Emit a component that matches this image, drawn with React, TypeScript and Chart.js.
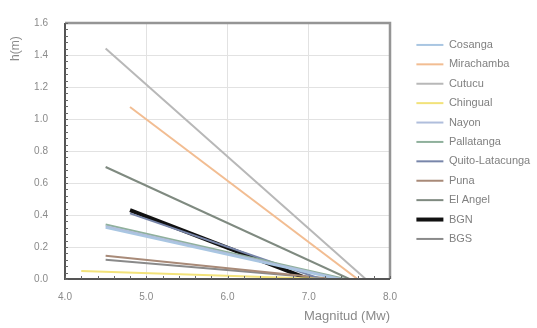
import React, { useEffect, useRef } from 'react';
import { Chart, registerables } from 'chart.js';
Chart.register(...registerables);

const seriesNames = ['Cosanga', 'Mirachamba', 'Cutucu', 'Chingual', 'Nayon', 'Pallatanga', 'Quito-Latacunga', 'Puna', 'El Angel', 'BGN', 'BGS'];
const magStart = [4.5, 4.8, 4.5, 4.2, 4.5, 4.5, 4.8, 4.5, 4.5, 4.8, 4.5];
const hStart = [0.32, 1.075, 1.44, 0.05, 0.33, 0.34, 0.41, 0.145, 0.7, 0.43, 0.12];
const magEnd = [7.35, 7.6, 7.7, 7.2, 7.4, 7.45, 7.15, 7.3, 7.5, 7.0, 7.3];
const seriesColors = ['#a9c6e2', '#f2bd92', '#b8b8b8', '#f2e27a', '#b0bedc', '#8fb09c', '#7886aa', '#a88a78', '#7f8a80', '#111111', '#8a8a8a'];
const seriesWidths = [2, 2, 2, 2, 2, 2, 2, 2, 2, 4, 2];

const xTicks = [4, 5, 6, 7, 8];
const yMin = 0;
const yMax = 1.6;
const yStep = 0.2;

const legendWidthPlugin = {
  id: 'legendWidth',
  beforeInit(chart: any) {
    const legend = chart.legend;
    if (!legend) return;
    const origFit = legend.fit;
    legend.fit = function () {
      origFit.call(this);
      this.width = 147;
    };
  },
  afterLayout(chart: any) {
    if (chart.legend) chart.legend.left += 18;
  },
};

const framePlugin = {
  id: 'frame',
  afterDraw(chart: any) {
    const { ctx, chartArea: a, scales } = chart;
    ctx.save();
    ctx.strokeStyle = '#959595';
    ctx.lineWidth = 2.5;
    ctx.beginPath();
    ctx.moveTo(a.left, a.top);
    ctx.lineTo(a.right, a.top);
    ctx.lineTo(a.right, a.bottom);
    ctx.stroke();
    ctx.strokeStyle = '#555555';
    ctx.lineWidth = 2;
    ctx.beginPath();
    ctx.moveTo(a.left, a.top);
    ctx.lineTo(a.left, a.bottom);
    ctx.lineTo(a.right, a.bottom);
    ctx.stroke();
    ctx.lineWidth = 1;
    ctx.strokeStyle = '#666666';
    ctx.beginPath();
    for (let v = 0; v <= 1.6001; v += 0.04) {
      const y = Math.round(scales.y.getPixelForValue(v)) + 0.5;
      ctx.moveTo(a.left, y);
      ctx.lineTo(a.left + 3, y);
    }
    for (let m = 4; m <= 8.0001; m += 0.2) {
      const x = Math.round(scales.x.getPixelForValue(m)) + 0.5;
      ctx.moveTo(x, a.bottom);
      ctx.lineTo(x, a.bottom - 3);
    }
    ctx.stroke();
    ctx.restore();
  },
};

export default function App() {
  const ref = useRef<HTMLCanvasElement>(null);
  useEffect(() => {
    document.body.style.margin = '0';
    const datasets = seriesNames.map((name, i) => ({
      label: name,
      data: [
        { x: magStart[i], y: hStart[i] },
        { x: magEnd[i], y: 0 },
      ],
      borderColor: seriesColors[i],
      backgroundColor: seriesColors[i],
      borderWidth: seriesWidths[i],
      pointRadius: 0,
      pointHoverRadius: 0,
      showLine: true,
      tension: 0,
    }));
    const chart = new Chart(ref.current!, {
      type: 'line',
      data: { datasets },
      options: {
        animation: false,
        responsive: false,
        maintainAspectRatio: false,
        layout: { padding: { left: 4, top: 23, right: 0, bottom: 0 } },
        plugins: {
          tooltip: { enabled: false },
          legend: {
            position: 'right',
            align: 'start',
            title: { display: true, text: ' ', font: { size: 6.7 } },
            labels: {
              usePointStyle: true,
              pointStyle: 'line',
              pointStyleWidth: 27,
              boxHeight: 11,
              padding: 8.4,
              color: '#808080',
              font: { family: 'Liberation Sans', size: 11 },
            },
          },
        },
        scales: {
          x: {
            type: 'linear',
            min: 4,
            max: 8,
            afterBuildTicks: (axis: any) => {
              axis.ticks = xTicks.map((v) => ({ value: v }));
            },
            afterFit: (axis: any) => {
              axis.height = 49;
            },
            grid: { color: '#e2e2e2', drawTicks: false },
            border: { display: false },
            ticks: {
              padding: 12,
              color: '#8a8a8a',
              font: { family: 'Liberation Sans', size: 10 },
              callback: (v: any) => Number(v).toFixed(1),
            },
            title: {
              display: true,
              text: 'Magnitud (Mw)',
              align: 'end',
              color: '#8a8a8a',
              font: { family: 'Liberation Sans', size: 13 },
              padding: { top: 2 },
            },
          },
          y: {
            type: 'linear',
            min: yMin,
            max: yMax,
            ticks: {
              stepSize: yStep,
              padding: 17,
              color: '#8a8a8a',
              font: { family: 'Liberation Sans', size: 10 },
              callback: (v: any) => Number(v).toFixed(1),
            },
            afterFit: (axis: any) => {
              axis.width = 61;
            },
            grid: { color: '#e2e2e2', drawTicks: false },
            border: { display: false },
            title: {
              display: true,
              text: 'h(m)\u00a0\u00a0\u00a0\u00a0',
              align: 'end',
              color: '#8a8a8a',
              font: { family: 'Liberation Sans', size: 12 },
              padding: { bottom: 0 },
            },
          },
        },
      },
      plugins: [legendWidthPlugin, framePlugin],
    });
    return () => chart.destroy();
  }, []);
  return <canvas ref={ref} width={537} height={328} style={{ display: 'block' }} />;
}
